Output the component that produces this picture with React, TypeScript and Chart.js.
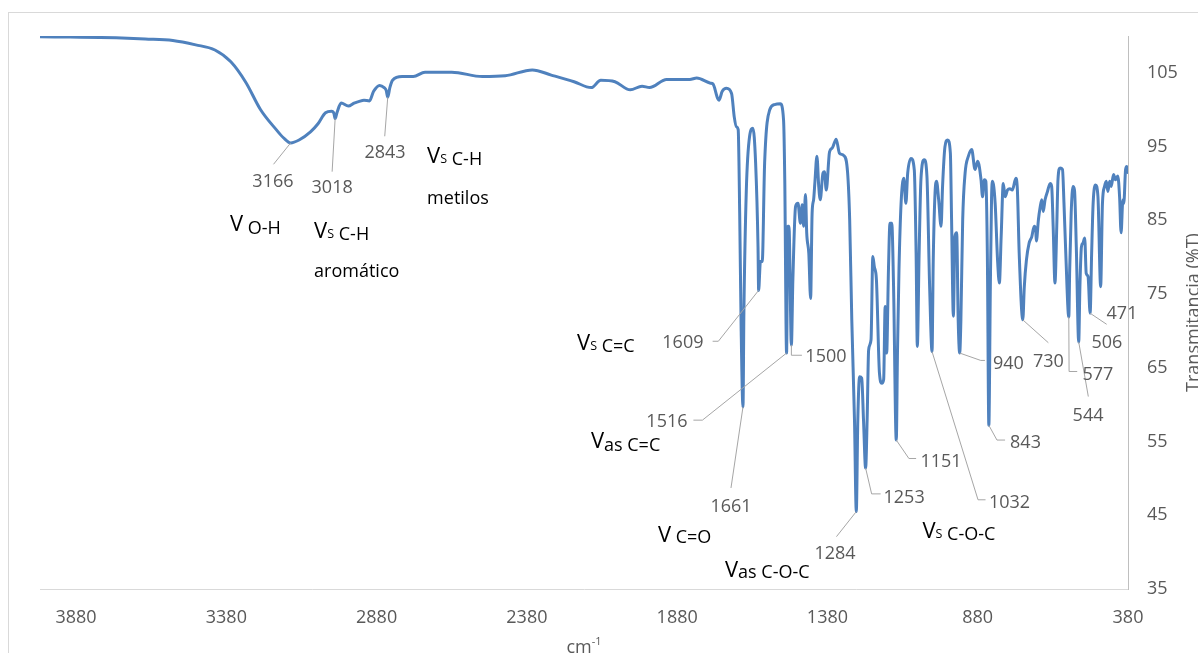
import { useEffect, useRef } from 'react';
import { Chart, registerables } from 'chart.js';

Chart.register(...registerables);

const FONT = "'Open Sans', sans-serif";

// Wavenumber (cm-1), descending
const wavenumbers = [
  4000, 3900, 3800, 3747, 3650, 3558, 3482, 3418, 3365, 3315, 3266, 3214, 3190, 3166, 3138, 3100, 3075, 3050, 3030, 3022,
  3018, 3012, 2998, 2974, 2955, 2940, 2922, 2904, 2890, 2870, 2855, 2848, 2843, 2836, 2827, 2795, 2758, 2719, 2630, 2528,
  2452, 2362, 2299, 2223, 2166, 2134, 2087, 2036, 1997, 1972, 1915, 1838, 1815, 1769, 1761, 1745, 1741, 1730, 1716, 1699,
  1690, 1683, 1677, 1672, 1667, 1661, 1658, 1650, 1639, 1628, 1619, 1611, 1609, 1603, 1597, 1589, 1572, 1556, 1537, 1526,
  1522, 1516, 1512, 1508, 1500, 1495, 1486, 1478, 1470, 1464, 1459, 1453, 1449, 1442, 1436, 1431, 1426, 1422, 1415, 1409,
  1404, 1395, 1390, 1384, 1373, 1364, 1351, 1340, 1326, 1313, 1306, 1299, 1290, 1284, 1279, 1273, 1266, 1260, 1253, 1248,
  1243, 1235, 1229, 1224, 1217, 1207, 1199, 1193, 1188, 1183, 1177, 1172, 1166, 1160, 1151, 1147, 1142, 1135, 1126, 1119,
  1113, 1102, 1091, 1085, 1081, 1075, 1069, 1058, 1049, 1040, 1032, 1028, 1022, 1017, 1010, 1002, 997, 989, 980, 971,
  967, 961, 956, 950, 945, 940, 936, 930, 922, 911, 900, 889, 880, 869, 864, 858, 853, 848, 843, 838,
  834, 831, 822, 814, 808, 802, 795, 789, 781, 773, 765, 753, 748, 742, 730, 725, 718, 709, 700, 692,
  687, 685, 678, 673, 667, 662, 656, 648, 639, 634, 629, 623, 617, 613, 606, 598, 593, 587, 577, 574,
  569, 563, 558, 552, 544, 540, 535, 530, 524, 519, 513, 506, 501, 496, 488, 480, 471, 465, 458, 452,
  447, 441, 436, 428, 422, 414, 408, 403, 397, 394, 388, 384, 380,
];

// Transmittance (%T)
const transmittance = [
  109.9, 109.85, 109.8, 109.75, 109.6, 109.4, 108.8, 108.1, 106.5, 103.7, 100.0, 97.3, 96.2, 95.5, 95.9, 97.0, 98.1, 99.6, 99.8, 99.5,
  98.8, 99.6, 100.9, 100.5, 100.9, 101.1, 101.3, 101.2, 102.5, 103.3, 103.0, 102.6, 101.7, 103.0, 104.0, 104.5, 104.5, 105.1, 105.1, 104.5,
  104.6, 105.4, 104.7, 103.8, 103.0, 104.0, 103.8, 102.7, 103.2, 103.0, 104.1, 104.1, 104.3, 103.6, 103.5, 101.5, 101.3, 102.5, 102.9, 102.2,
  99.0, 97.7, 97.3, 86.0, 70.0, 59.7, 72.4, 89.0, 96.4, 97.5, 92.8, 81.4, 75.5, 79.4, 79.4, 92.8, 100.0, 100.7, 100.8, 98.6,
  90.5, 67.0, 84.2, 84.2, 68.1, 77.0, 86.9, 87.3, 84.6, 87.1, 84.2, 88.5, 83.3, 80.5, 74.4, 86.0, 87.8, 90.0, 93.7, 89.6,
  87.8, 91.4, 91.6, 89.1, 94.3, 94.8, 96.0, 94.1, 93.8, 91.5, 85.0, 71.5, 57.9, 45.5, 57.9, 63.8, 63.6, 57.9, 51.4, 57.9,
  67.4, 68.8, 80.1, 78.7, 76.9, 64.3, 62.9, 63.4, 73.3, 67.0, 78.3, 84.6, 84.6, 76.0, 55.2, 67.0, 78.3, 87.3, 90.7, 87.3,
  91.4, 93.4, 91.8, 80.5, 67.9, 80.5, 90.5, 93.2, 91.0, 76.0, 67.2, 79.6, 88.7, 90.3, 87.8, 84.2, 89.6, 95.0, 95.9, 94.1,
  85.1, 72.0, 82.8, 83.3, 71.5, 67.0, 71.5, 85.1, 91.4, 93.7, 94.6, 91.9, 93.0, 90.5, 88.2, 90.5, 90.3, 80.5, 57.2, 76.0,
  88.0, 90.3, 87.3, 79.6, 76.5, 82.8, 90.0, 88.2, 89.1, 89.3, 89.1, 90.7, 89.1, 80.5, 71.5, 76.0, 79.6, 81.9, 82.8, 84.2,
  83.7, 82.2, 85.1, 86.6, 87.8, 86.2, 87.8, 88.9, 90.0, 89.6, 84.2, 76.5, 84.2, 90.5, 92.1, 91.9, 87.3, 80.5, 71.9, 78.3,
  86.0, 89.6, 89.1, 81.4, 68.5, 76.0, 81.4, 81.9, 82.6, 77.8, 77.4, 72.4, 80.5, 87.3, 89.8, 88.2, 76.0, 87.3, 89.6, 90.3,
  88.9, 90.3, 89.6, 91.2, 90.5, 91.0, 88.2, 83.3, 87.8, 87.3, 91.9, 92.3, 91.5,
];

const xTickValues = [380, 880, 1380, 1880, 2380, 2880, 3380, 3880];
const yTickValues = [35, 45, 55, 65, 75, 85, 95, 105];

const xAxisTitle = 'cm';
const xAxisTitleSup = '-1';
const yAxisTitle = 'Transmitancia (%T)';

// Peak number labels: peak wavenumber, label position (wn, %T baseline), leader path
const peakAnnotations: { text: string; at: number; label: [number, number]; path: [number, number][] }[] = [
  { text: '3166', at: 3166, label: [3225, 89.5], path: [[3223, 92.6]] },
  { text: '3018', at: 3018, label: [3028, 88.7], path: [[3028, 91.6]] },
  { text: '2843', at: 2843, label: [2852, 93.5], path: [[2853, 96.4]] },
  { text: '1609', at: 1609, label: [1861, 67.7], path: [[1743, 68.6], [1762, 68.6]] },
  { text: '1500', at: 1500, label: [1385, 65.8], path: [[1500, 66.7], [1465, 66.7]] },
  { text: '1516', at: 1516, label: [1914, 57.0], path: [[1796, 57.9], [1826, 57.9]] },
  { text: '1661', at: 1661, label: [1701, 45.4], path: [[1701, 48.7]] },
  { text: '1284', at: 1284, label: [1355, 39.1], path: [[1350, 42.1]] },
  { text: '1253', at: 1253, label: [1125, 46.7], path: [[1233, 47.9], [1203, 47.9]] },
  { text: '1151', at: 1151, label: [1002, 51.5], path: [[1109, 52.7], [1085, 52.7]] },
  { text: '1032', at: 1032, label: [774, 46.0], path: [[879, 47.1], [854, 47.1]] },
  { text: '843', at: 843, label: [721, 54.1], path: [[816, 55.2], [789, 55.2]] },
  { text: '940', at: 940, label: [778, 64.8], path: [[870, 66.0], [856, 66.0]] },
  { text: '730', at: 730, label: [645, 65.1], path: [[645, 68.4]] },
  { text: '577', at: 577, label: [480, 63.3], path: [[576, 64.5], [549, 64.5]] },
  { text: '544', at: 544, label: [513, 57.8], path: [[512, 61.1]] },
  { text: '506', at: 506, label: [450, 67.7], path: [[451, 70.9]] },
  { text: '471', at: 471, label: [400, 71.6], path: [] },
];

// Band assignment texts: parts [text, font size, baseline shift], anchor (wn, %T) = left/baseline
const bandLabels: { parts: [string, number, number][]; at: [number, number] }[] = [
  { parts: [['V', 22, 0], [' O-H', 18, 3]], at: [3368, 83.6] },
  { parts: [['V', 22, 0], ['S', 12.5, 0], [' C-H', 18, 2]], at: [3088, 82.6] },
  { parts: [['aromático', 18, 0]], at: [3088, 77.3] },
  { parts: [['V', 22, 0], ['S', 12.5, 0], [' C-H', 18, 2]], at: [2712, 92.8] },
  { parts: [['metilos', 18, 0]], at: [2712, 87.2] },
  { parts: [['V', 22, 0], ['S', 12.5, 0], [' C=C', 18, 2]], at: [2213, 67.4] },
  { parts: [['V', 22, 0], ['as C=C', 18, 3]], at: [2167, 54.1] },
  { parts: [['V', 22, 0], [' C=O', 18, 1]], at: [1944, 41.4] },
  { parts: [['V', 22, 0], ['as C-O-C', 18, 1]], at: [1721, 36.6] },
  { parts: [['V', 22, 0], ['S', 12.5, 0], [' C-O-C', 18, 2]], at: [1064, 41.9] },
];

const CANVAS_W = 1240;
const CANVAS_H = 680;

const annotationPlugin = {
  id: 'irAnnotations',
  beforeDraw(chart: any) {
    const { ctx, width, height } = chart;
    ctx.save();
    ctx.fillStyle = '#ffffff';
    ctx.fillRect(0, 0, width, height);
    ctx.strokeStyle = '#d9d9d9';
    ctx.lineWidth = 1;
    ctx.strokeRect(0.5, 0.5, width - 1, height - 1);
    ctx.restore();
  },
  afterDraw(chart: any) {
    const { ctx, chartArea } = chart;
    const xs = chart.scales.x;
    const ys = chart.scales.y;
    const px = (v: number) => xs.getPixelForValue(v);
    const py = (v: number) => ys.getPixelForValue(v);
    ctx.save();

    // leader lines
    ctx.strokeStyle = '#a6a6a6';
    ctx.lineWidth = 1;
    for (const a of peakAnnotations) {
      if (!a.path.length) continue;
      const idx = wavenumbers.indexOf(a.at);
      const t = transmittance[idx];
      ctx.beginPath();
      ctx.moveTo(px(a.at), py(t));
      for (const [w, v] of a.path) ctx.lineTo(px(w), py(v));
      ctx.stroke();
    }

    // peak numbers
    ctx.fillStyle = '#595959';
    ctx.font = `18px ${FONT}`;
    ctx.textAlign = 'center';
    ctx.textBaseline = 'alphabetic';
    for (const a of peakAnnotations) {
      ctx.fillText(a.text, px(a.label[0]), py(a.label[1]));
    }

    // band labels
    ctx.fillStyle = '#000000';
    ctx.textAlign = 'left';
    for (const b of bandLabels) {
      let cx = px(b.at[0]);
      const by = py(b.at[1]);
      for (const [txt, size, dy] of b.parts) {
        ctx.font = `${size}px ${FONT}`;
        ctx.fillText(txt, cx, by + dy);
        cx += ctx.measureText(txt).width;
      }
    }

    // x axis title with superscript
    ctx.fillStyle = '#595959';
    ctx.font = `18px ${FONT}`;
    const w1 = ctx.measureText(xAxisTitle).width;
    ctx.font = `11px ${FONT}`;
    const w2 = ctx.measureText(xAxisTitleSup).width;
    const cxm = (chartArea.left + chartArea.right) / 2;
    const startX = cxm - (w1 + w2) / 2;
    const baseY = chartArea.bottom + 64;
    ctx.font = `18px ${FONT}`;
    ctx.fillText(xAxisTitle, startX, baseY);
    ctx.font = `11px ${FONT}`;
    ctx.fillText(xAxisTitleSup, startX + w1, baseY - 8);

    // y axis title, rotated (reads bottom to top)
    ctx.font = `18px ${FONT}`;
    ctx.translate(chartArea.right + 71, (chartArea.top + chartArea.bottom) / 2);
    ctx.rotate(-Math.PI / 2);
    ctx.textAlign = 'center';
    ctx.fillText(yAxisTitle, 0, 0);

    ctx.restore();
  },
};

export default function App() {
  const canvasRef = useRef<HTMLCanvasElement | null>(null);

  useEffect(() => {
    const canvas = canvasRef.current;
    if (!canvas) return;
    const points = wavenumbers.map((w, i) => ({ x: w, y: transmittance[i] }));
    const chart = new Chart(canvas, {
      type: 'line',
      data: {
        datasets: [
          {
            data: points,
            borderColor: '#4f81bd',
            borderWidth: 3,
            pointRadius: 0,
            fill: false,
            cubicInterpolationMode: 'monotone',
            borderJoinStyle: 'round',
            borderCapStyle: 'round',
          },
        ],
      },
      options: {
        animation: false,
        responsive: false,
        devicePixelRatio: 1,
        parsing: false,
        normalized: true,
        layout: { padding: { left: 32, top: 24, right: 50, bottom: 43 } },
        plugins: { legend: { display: false }, tooltip: { enabled: false }, title: { display: false } },
        scales: {
          x: {
            type: 'linear',
            position: 'bottom',
            reverse: true,
            min: 380,
            max: 4000,
            afterBuildTicks: (scale: any) => {
              scale.ticks = xTickValues.map((v) => ({ value: v }));
            },
            afterFit: (scale: any) => {
              scale.height = 60;
              scale.paddingLeft = 0;
              scale.paddingRight = 0;
            },
            grid: { display: false, drawTicks: false },
            border: { display: true, color: '#d9d9d9', width: 1 },
            ticks: {
              color: '#595959',
              font: { family: FONT, size: 18 },
              padding: 18,
              maxRotation: 0,
              autoSkip: false,
              callback: (v: any) => String(v),
            },
          },
          y: {
            type: 'linear',
            position: 'right',
            min: 35,
            max: 110,
            afterBuildTicks: (scale: any) => {
              scale.ticks = yTickValues.map((v) => ({ value: v }));
            },
            afterFit: (scale: any) => {
              scale.width = 70;
              scale.paddingTop = 0;
              scale.paddingBottom = 0;
            },
            grid: { display: false, drawTicks: false },
            border: { display: true, color: '#bfbfbf', width: 1 },
            ticks: {
              color: '#595959',
              font: { family: FONT, size: 18 },
              padding: 19,
              autoSkip: false,
              callback: (v: any) => String(v),
            },
          },
        },
      },
      plugins: [annotationPlugin],
    } as any);
    return () => chart.destroy();
  }, []);

  return (
    <div
      style={{
        position: 'fixed',
        left: 0,
        top: 0,
        width: '100vw',
        height: '100vh',
        overflow: 'hidden',
        background: '#ffffff',
      }}
    >
      <canvas
        ref={canvasRef}
        width={CANVAS_W}
        height={CANVAS_H}
        style={{ position: 'absolute', left: 8, top: 12, width: CANVAS_W, height: CANVAS_H }}
      />
    </div>
  );
}
